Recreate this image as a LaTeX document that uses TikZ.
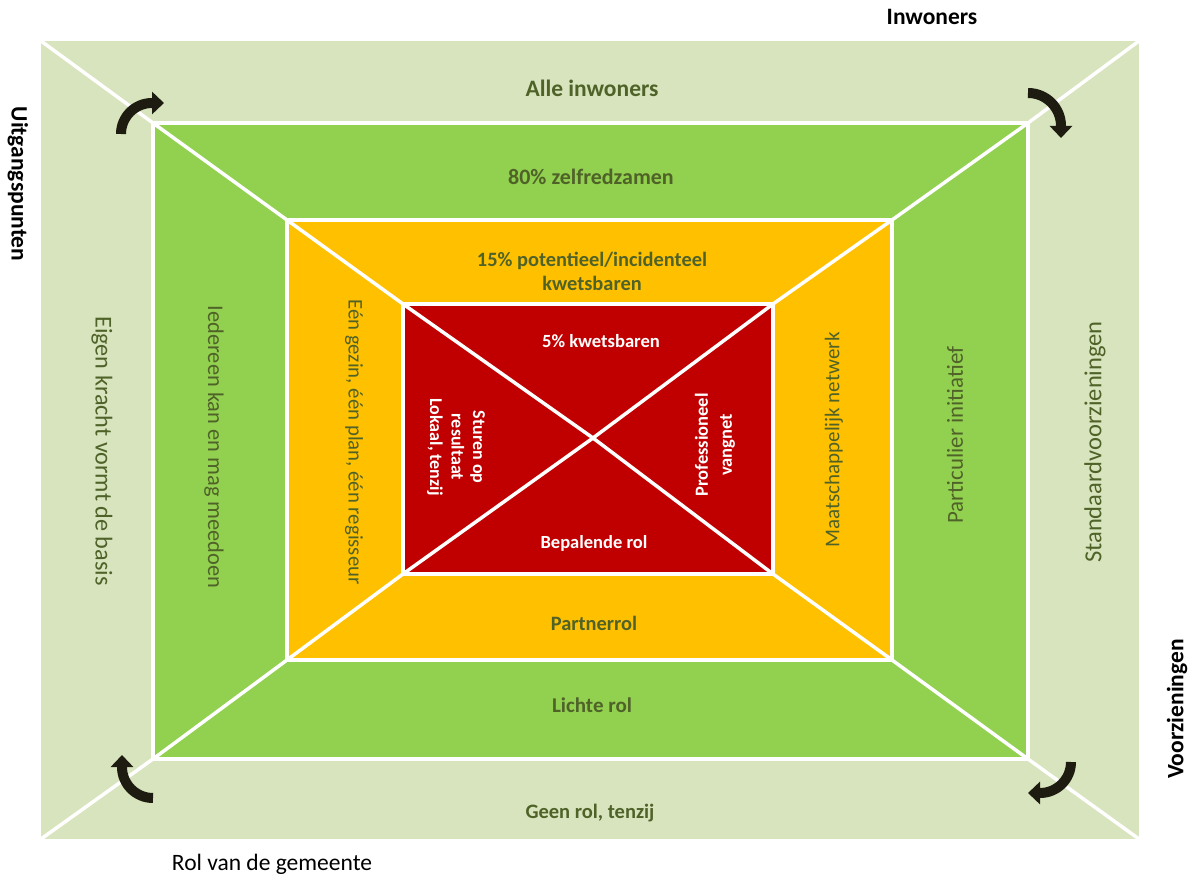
\documentclass[tikz,border=0pt]{standalone}
\usepackage{fontspec}
\setmainfont{Carlito}
\usetikzlibrary{arrows.meta}
\definecolor{lgreen}{RGB}{215,228,189}
\definecolor{mgreen}{RGB}{146,208,80}
\definecolor{orng}{RGB}{255,192,0}
\definecolor{rred}{RGB}{192,0,0}
\definecolor{olive}{RGB}{79,98,40}
\definecolor{arrowc}{RGB}{30,28,16}
\begin{document}
\begin{tikzpicture}[x=1pt,y=-1pt,
  wline/.style={white,line width=3.5pt,line join=miter},
  tx/.style={text=olive,inner sep=0pt},
  wt/.style={text=white,inner sep=0pt},
  bk/.style={text=black,inner sep=0pt},
  arr/.style={arrowc,line width=10pt,-{Triangle[width=22pt,length=12pt]}}]
\useasboundingbox (0,0) rectangle (1189,874);
% corners
\coordinate (oTL) at (41,41);   \coordinate (oTR) at (1139,41);
\coordinate (oBR) at (1139,839); \coordinate (oBL) at (41,839);
\coordinate (gTL) at (153,123); \coordinate (gTR) at (1028,123);
\coordinate (gBR) at (1028,759); \coordinate (gBL) at (153,759);
\coordinate (yTL) at (287,220); \coordinate (yTR) at (892,220);
\coordinate (yBR) at (892,660); \coordinate (yBL) at (287,660);
\coordinate (rTL) at (403,304); \coordinate (rTR) at (773,304);
\coordinate (rBR) at (773,574); \coordinate (rBL) at (403,574);
\coordinate (ctr) at (593,438);
% fills
\fill[lgreen] (oTL) rectangle (oBR);
\fill[mgreen] (gTL) rectangle (gBR);
\fill[orng] (yTL) rectangle (yBR);
\fill[rred] (rTL) rectangle (rBR);
% borders
\draw[wline] (gTL) rectangle (gBR);
\draw[wline] (yTL) rectangle (yBR);
\draw[wline] (rTL) rectangle (rBR);
% diagonals
\draw[wline] (oTL) -- (gTL) -- (yTL) -- (rTL) -- (ctr) -- (rBR) -- (yBR) -- (gBR) -- (oBR);
\draw[wline] (oTR) -- (gTR) -- (yTR) -- (rTR) -- (ctr) -- (rBL) -- (yBL) -- (gBL) -- (oBL);
% arrows
\draw[arr] (121,134) arc[start angle=180,end angle=270,radius=31] -- ++(12,0);
\draw[arr] (1028,93) arc[start angle=-90,end angle=0,radius=33] -- ++(0,12);
\draw[arr] (1071,762) arc[start angle=0,end angle=90,radius=31] -- ++(-12,0);
\draw[arr] (153,798) arc[start angle=90,end angle=180,radius=31] -- ++(0,-12);
% outer labels
\node[bk,anchor=base,font=\bfseries\fontsize{23.5}{28}\selectfont] (inw) at (932,25) {Inwoners};
\node[bk,rotate=-90,font=\bfseries\fontsize{23.5}{28}\selectfont] (uitg) at (18,184) {Uitgangspunten};
\node[bk,rotate=90,font=\bfseries\fontsize{23.5}{28}\selectfont] (voorz) at (1177,709) {Voorzieningen};
\node[bk,anchor=base,font=\fontsize{23.5}{28}\selectfont] (rol) at (272,870) {Rol van de gemeente};
% horizontal labels
\node[tx,anchor=base,font=\bfseries\fontsize{23.5}{28}\selectfont] (alle) at (592,97) {Alle inwoners};
\node[tx,anchor=base,font=\bfseries\fontsize{22}{26}\selectfont] (tachtig) at (591,185) {80\% zelfredzamen};
\node[tx,anchor=base,font=\bfseries\fontsize{20.4}{24}\selectfont,align=center] (vijftien) at (592,291) {15\% potentieel/incidenteel\\kwetsbaren};
\node[wt,anchor=base,font=\bfseries\fontsize{18.6}{22}\selectfont] (vijf) at (601,348) {5\% kwetsbaren};
\node[wt,anchor=base,font=\bfseries\fontsize{18.5}{22}\selectfont] (bepal) at (594,548) {Bepalende rol};
\node[tx,anchor=base,font=\bfseries\fontsize{20.4}{24}\selectfont] (partner) at (594,630) {Partnerrol};
\node[tx,anchor=base,font=\bfseries\fontsize{21}{25}\selectfont] (licht) at (592,712) {Lichte rol};
\node[tx,anchor=base,font=\bfseries\fontsize{20.5}{24}\selectfont] (geen) at (590,818) {Geen rol, tenzij};
% vertical labels left
\node[tx,rotate=-90,font=\fontsize{24.2}{28}\selectfont] (eigen) at (102,451) {Eigen kracht vormt de basis};
\node[tx,rotate=-90,font=\fontsize{22.4}{26}\selectfont] (ieder) at (214,447) {Iedereen kan en mag meedoen};
\node[tx,rotate=-90,font=\fontsize{20.8}{24}\selectfont] (gezin) at (354,442) {Eén gezin, één plan, één regisseur};
\node[wt,rotate=-90,font=\bfseries\fontsize{18}{21.5}\selectfont,align=center] (sturen) at (456,447) {Sturen op\\resultaat\\Lokaal, tenzij};
% vertical labels right
\node[wt,rotate=90,font=\bfseries\fontsize{18.5}{24}\selectfont,align=center] (prof) at (715,445) {Professioneel\\vangnet};
\node[tx,rotate=90,font=\fontsize{21}{25}\selectfont] (maat) at (834,440) {Maatschappelijk netwerk};
\node[tx,rotate=90,font=\fontsize{22.9}{27}\selectfont] (partic) at (955,435) {Particulier initiatief};
\node[tx,rotate=90,font=\fontsize{24.5}{28}\selectfont] (stand) at (1095,442) {Standaardvoorzieningen};
\end{tikzpicture}
\end{document}
